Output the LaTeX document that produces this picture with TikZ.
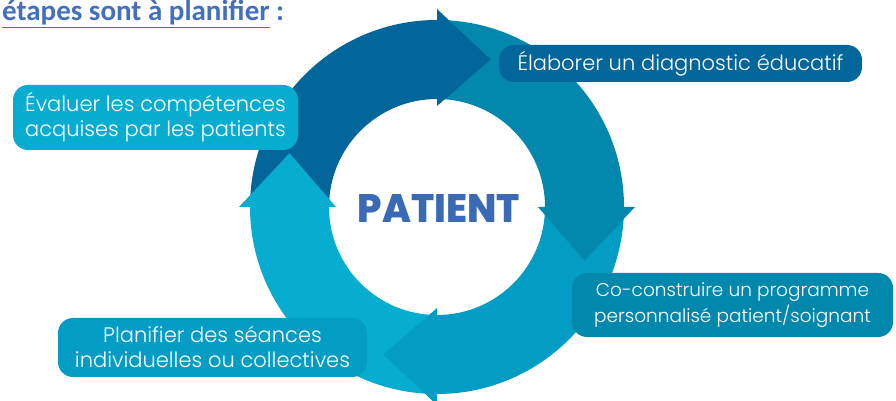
\documentclass[tikz,border=0pt]{standalone}
\usepackage{fontspec}
\usepackage{graphicx}
\IfFontExistsTF{Poppins Light}{\setmainfont{Poppins Light}}{\setmainfont{Poppins}}
\IfFontExistsTF{Poppins ExtraBold}{\newfontfamily\patfont{Poppins ExtraBold}}{\newfontfamily\patfont{Poppins}[UprightFont=*-Bold]}
\newfontfamily\titlefont{Carlito}
\definecolor{cA}{HTML}{03669A}
\definecolor{cB}{HTML}{0388AD}
\definecolor{cC}{HTML}{039CC4}
\definecolor{cD}{HTML}{06ADD0}
\definecolor{titleblue}{HTML}{4270BE}
\definecolor{patblue}{HTML}{3A6AB5}
\tikzset{
  lbl/.style={rounded corners=15pt, text=white, align=center, inner sep=0pt,
    font=\fontsize{21}{25}\selectfont},
}
\begin{document}
\begin{tikzpicture}[x=1pt,y=1pt]
\useasboundingbox (0,0) rectangle (896,401);
\begin{scope}[shift={(437,194)}]
  % bodies
  \fill[cA] (180:108) arc[start angle=180,end angle=90,radius=108] -- (90:187) arc[start angle=90,end angle=180,radius=187] -- cycle;
  \fill[cB] (90:108) arc[start angle=90,end angle=0,radius=108] -- (0:187) arc[start angle=0,end angle=90,radius=187] -- cycle;
  \fill[cC] (0:108) arc[start angle=0,end angle=-90,radius=108] -- (-90:187) arc[start angle=-90,end angle=0,radius=187] -- cycle;
  \fill[cD] (-90:108) arc[start angle=-90,end angle=-180,radius=108] -- (-180:187) arc[start angle=-180,end angle=-90,radius=187] -- cycle;
  % heads
  \fill[cA] (90:101) -- (90:198) -- (70:157) -- cycle;
  \fill[cB] (0:101) -- (0:198) -- (-20:157) -- cycle;
  \fill[cC] (-90:101) -- (-90:198) -- (-110:157) -- cycle;
  \fill[cD] (180:101) -- (180:198) -- (160:157) -- cycle;
\end{scope}
\node[anchor=base west, inner sep=0pt, text=titleblue,
  font=\titlefont\bfseries\fontsize{29}{34}\selectfont] (title) at (2,380)
  {\underline{étapes sont à planifier}\ :};
\node[inner sep=0pt, text=patblue, font=\patfont] (patient) at (439,192)
  {\resizebox{162pt}{28pt}{PATIENT}};
\node[lbl, fill=cA, minimum width=363pt, minimum height=37pt] (elab) at (680.5,337.5)
  {Élaborer un diagnostic éducatif};
\node[lbl, fill=cB, minimum width=321pt, minimum height=64pt,
  font=\fontsize{18.5}{26}\selectfont] (cocon) at (732.5,96)
  {Co-construire un programme\\personnalisé patient/soignant};
\node[lbl, fill=cC, minimum width=309pt, minimum height=59pt] (plan) at (212.5,53.5)
  {Planifier des séances\\individuelles ou collectives};
\node[lbl, fill=cD, minimum width=285pt, minimum height=65pt] (eval) at (155.5,283.5)
  {Évaluer les compétences\\acquises par les patients};
\end{tikzpicture}
\end{document}
